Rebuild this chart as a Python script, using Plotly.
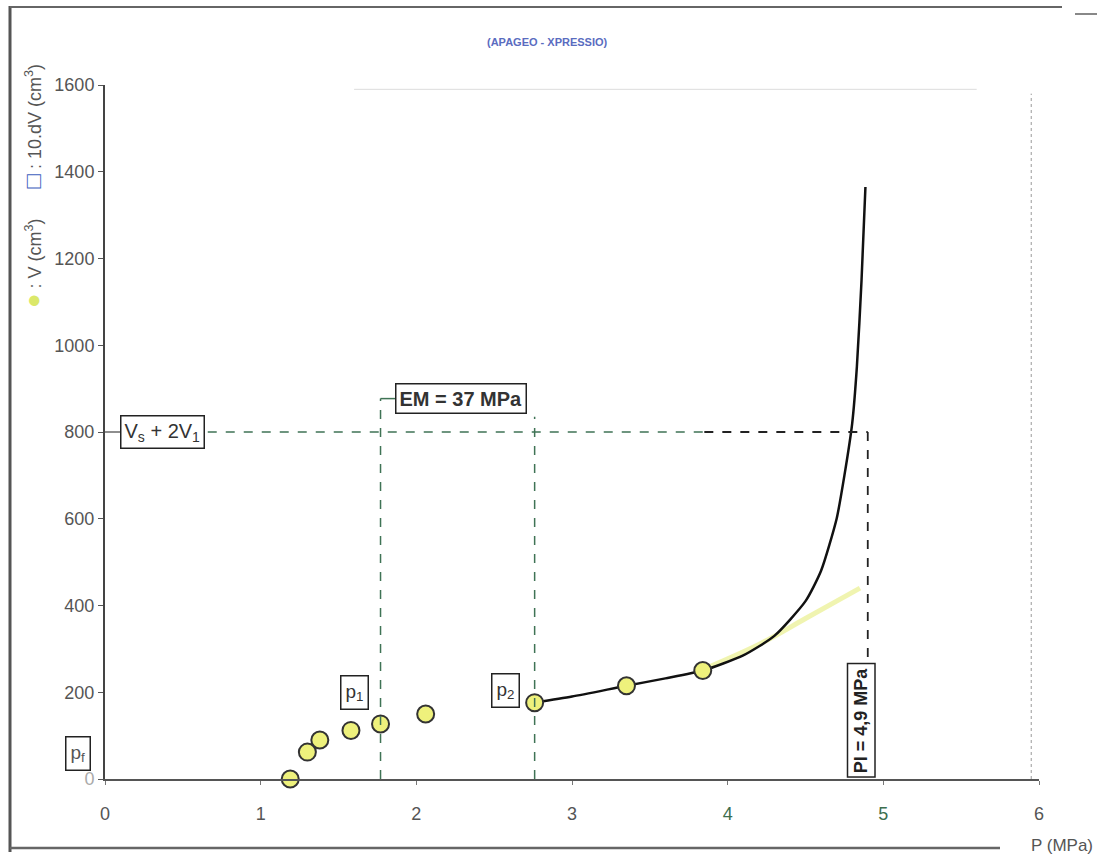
import plotly.graph_objects as go

# ---- data ----
P_points = [1.19, 1.30, 1.38, 1.58, 1.77, 2.06, 2.76, 3.35, 3.84]
V_points = [0, 62, 90, 112, 127, 150, 176, 215, 250]

P_curve = [2.76, 3.0, 3.35, 3.6, 3.84, 4.1, 4.3, 4.5, 4.6, 4.7, 4.75, 4.8, 4.83, 4.86, 4.885]
V_curve = [176, 190, 215, 232, 250, 285, 330, 410, 480, 600, 700, 820, 950, 1150, 1365]

P_pale = [3.84, 4.2, 4.5, 4.7, 4.85]
V_pale = [252, 310, 370, 410, 440]

x_ticks = [0, 1, 2, 3, 4, 5, 6]
x_tick_text = ["0", "1", "2", "3",
               "<span style='color:#3d6e4e'>4</span>",
               "<span style='color:#3d6e4e'>5</span>", "6"]
y_ticks = [0, 200, 400, 600, 800, 1000, 1200, 1400, 1600]
y_tick_text = ["<span style='color:#aaaaaa'>0</span>", "200", "400", "600", "800",
               "1000", "1200", "1400", "1600"]

P_EM_1 = 1.77
P_EM_2 = 2.76
V_limit = 800
P_limit = 4.9

GREEN = "#3f7355"
FONT = "Liberation Sans, Arial, sans-serif"

fig = go.Figure()

fig.add_trace(go.Scatter(x=P_pale, y=V_pale, mode="lines",
                         line=dict(color="rgba(235,240,150,0.75)", width=5, shape="spline"),
                         hoverinfo="skip", showlegend=False))
fig.add_trace(go.Scatter(x=P_curve, y=V_curve, mode="lines",
                         line=dict(color="#111111", width=2.5, shape="spline", smoothing=0.6),
                         showlegend=False))
fig.add_trace(go.Scatter(x=P_points, y=V_points, mode="markers",
                         marker=dict(size=17, color="#eef17c",
                                     line=dict(color="#333333", width=2)),
                         showlegend=False, cliponaxis=False))

# dashed construction lines
fig.add_shape(type="line", x0=0.0, x1=0.1, y0=V_limit, y1=V_limit,
              line=dict(color="#444444", width=1.2))
fig.add_shape(type="line", x0=0.66, x1=3.85, y0=V_limit, y1=V_limit,
              line=dict(color=GREEN, width=1.5, dash="dash"))
fig.add_shape(type="line", x0=3.85, x1=P_limit, y0=V_limit, y1=V_limit,
              line=dict(color="#222222", width=1.8, dash="dash"))
fig.add_shape(type="line", x0=P_limit, x1=P_limit, y0=V_limit, y1=262,
              line=dict(color="#222222", width=1.8, dash="dash"))
fig.add_shape(type="line", x0=P_EM_1, x1=P_EM_1, y0=0, y1=877,
              line=dict(color=GREEN, width=1.5, dash="dash"))
fig.add_shape(type="line", x0=P_EM_1, x1=1.87, y0=877, y1=877,
              line=dict(color=GREEN, width=1.5))
fig.add_shape(type="line", x0=P_EM_2, x1=P_EM_2, y0=0, y1=835,
              line=dict(color=GREEN, width=1.5, dash="dash"))

# right dotted border and faint top border
fig.add_shape(type="line", x0=5.95, x1=5.95, y0=0, y1=1580,
              line=dict(color="#999999", width=1, dash="dot"))
fig.add_shape(type="line", x0=1.6, x1=5.6, y0=1590, y1=1590,
              line=dict(color="#dddddd", width=1))

# outer frame (paper coords)
def px(xp):
    return (xp - 105) / 934
def py(yp):
    return (779 - yp) / 694

fig.add_shape(type="line", xref="paper", yref="paper", x0=px(10), x1=px(10), y0=py(6), y1=py(852),
              line=dict(color="#555555", width=3))
fig.add_shape(type="line", xref="paper", yref="paper", x0=px(10), x1=px(1062), y0=py(7), y1=py(7),
              line=dict(color="#666666", width=2))
fig.add_shape(type="line", xref="paper", yref="paper", x0=px(1075), x1=px(1097), y0=py(14), y1=py(14),
              line=dict(color="#888888", width=2))
fig.add_shape(type="line", xref="paper", yref="paper", x0=px(10), x1=px(1000), y0=py(848), y1=py(848),
              line=dict(color="#666666", width=2.5))

box = dict(showarrow=False, bordercolor="#222222", borderwidth=1.5, bgcolor="white",
           xanchor="center", yanchor="middle")

fig.add_annotation(x=2.29, y=878, text="<b>EM = 37 MPa</b>", borderpad=3,
                   font=dict(family=FONT, size=20, color="#333333"), **box)
fig.add_annotation(x=0.37, y=V_limit, text="V<sub>s</sub> + 2V<sub>1</sub>", borderpad=3,
                   font=dict(family=FONT, size=20, color="#333333"), **box)
fig.add_annotation(x=1.60, y=200, text="p<sub>1</sub>", borderpad=4,
                   font=dict(family=FONT, size=19, color="#333333"), **box)
fig.add_annotation(x=2.575, y=203, text="p<sub>2</sub>", borderpad=4,
                   font=dict(family=FONT, size=19, color="#333333"), **box)
fig.add_annotation(xref="paper", yref="paper", x=px(78), y=py(753), text="p<sub>f</sub>", borderpad=4,
                   font=dict(family=FONT, size=19, color="#555555"), **box)
fig.add_annotation(x=4.855, y=136, text="<b>Pl = 4,9 MPa</b>", textangle=-90, borderpad=3,
                   font=dict(family=FONT, size=18, color="#222222"), **box)

fig.add_annotation(xref="paper", yref="paper", x=px(547), y=py(42), xanchor="center", yanchor="middle",
                   text="<b>(APAGEO - XPRESSIO)</b>", showarrow=False,
                   font=dict(family=FONT, size=11, color="#5a6cbf"))
fig.add_annotation(xref="paper", yref="paper", x=px(1062), y=py(845), xanchor="center", yanchor="middle",
                   text="P (MPa)", showarrow=False,
                   font=dict(family=FONT, size=17, color="#555555"))
fig.add_annotation(xref="paper", yref="paper", x=px(32), y=py(186), xanchor="center", yanchor="middle",
                   textangle=-90,
                   text="<span style='color:#dbe86a;font-size:24px'>●</span> : V (cm<sup>3</sup>)"
                        "&nbsp;&nbsp;&nbsp;&nbsp;&nbsp;&nbsp;"
                        "<span style='color:#3f5fc0;font-size:24px'><b>□</b></span> : 10.dV (cm<sup>3</sup>)",
                   showarrow=False, font=dict(family=FONT, size=18, color="#555555"))

fig.update_layout(
    width=1101, height=859,
    margin=dict(l=105, r=62, t=85, b=80),
    paper_bgcolor="white", plot_bgcolor="white",
    font=dict(family=FONT, size=17, color="#555555"),
    showlegend=False,
    xaxis=dict(range=[0, 6], tickvals=x_ticks, ticktext=x_tick_text,
               showgrid=False, zeroline=False, showline=True, linecolor="#555555", linewidth=2,
               ticks="outside", ticklen=4, tickcolor="#777777",
               ticklabelstandoff=13, tickfont=dict(family=FONT, size=18, color="#555555")),
    yaxis=dict(range=[0, 1600], tickvals=y_ticks, ticktext=y_tick_text,
               showgrid=False, zeroline=False, showline=True, linecolor="#444444", linewidth=2,
               ticks="outside", ticklen=5, tickcolor="#555555",
               tickfont=dict(family=FONT, size=18, color="#555555")),
)

fig.write_html("out.html")
